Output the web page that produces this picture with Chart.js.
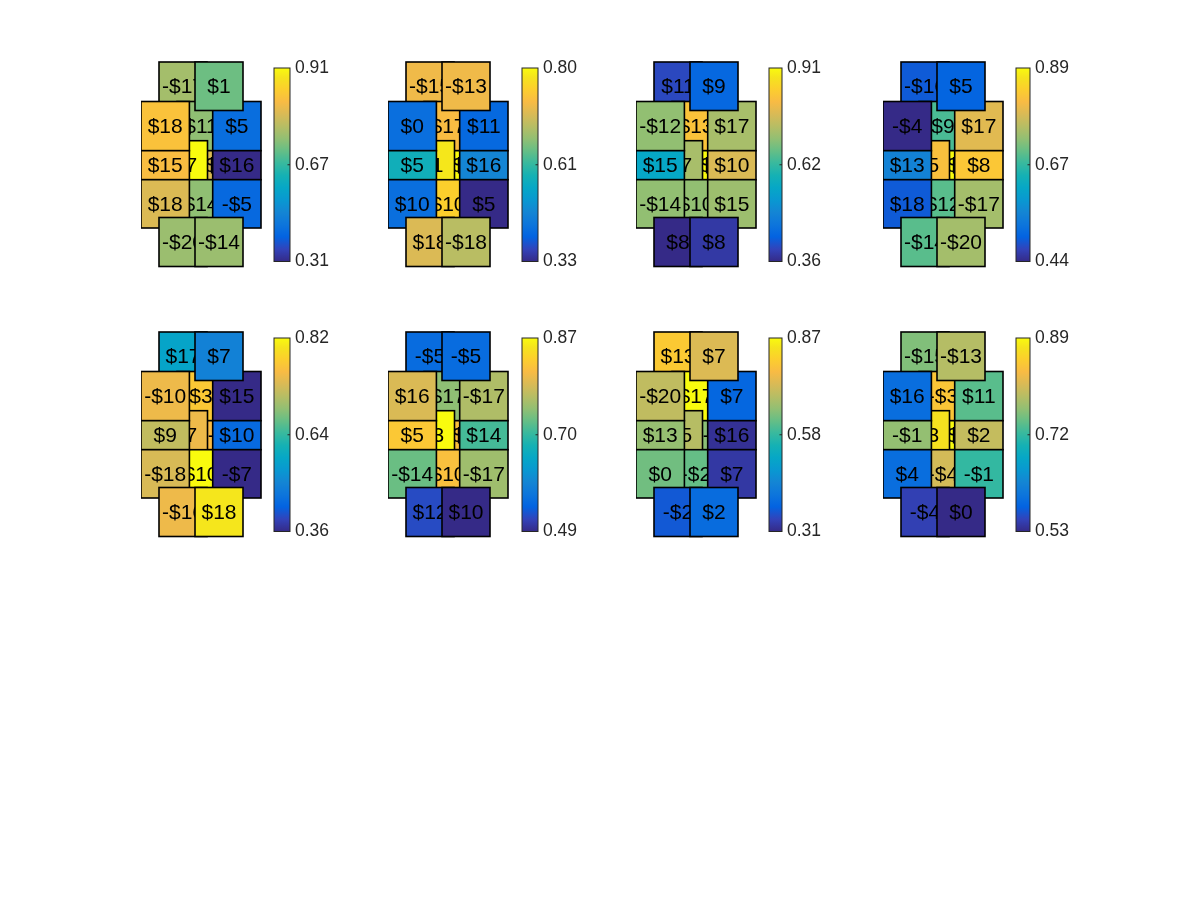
<!DOCTYPE html>
<html>
<head>
<meta charset="utf-8">
<script src="https://cdn.jsdelivr.net/npm/chart.js@4.4.1/dist/chart.umd.min.js"></script>
<style>
  body { margin: 0; background: #fff; width: 1200px; height: 900px; position: relative; overflow: hidden; }
  .panel { position: absolute; }
</style>
</head>
<body>
<script>
// cell order in every panel: TL, MT, B, A, MB, L1, L2, L3, R1, R2, R3, TR, BL, BR
const labelsP1 = ['-$17', '$11', '$19', '$17', '$14', '$18', '$15', '$18', '$5', '$16', '-$5', '$1', '-$20', '-$14'];
const labelsP2 = ['-$15', '$17', '$19', '$11', '$10', '$0', '$5', '$10', '$11', '$16', '$5', '-$13', '$18', '-$18'];
const labelsP3 = ['$11', '$13', '$19', '$17', '$10', '-$12', '$15', '-$14', '$17', '$10', '$15', '$9', '$8', '$8'];
const labelsP4 = ['-$16', '$9', '$19', '$15', '$12', '-$4', '$13', '$18', '$17', '$8', '-$17', '$5', '-$14', '-$20'];
const labelsP5 = ['$17', '$3', '-$5', '$17', '$10', '-$10', '$9', '-$18', '$15', '$10', '-$7', '$7', '-$16', '$18'];
const labelsP6 = ['-$5', '$17', '$19', '$13', '$10', '$16', '$5', '-$14', '-$17', '$14', '-$17', '-$5', '$12', '$10'];
const labelsP7 = ['$13', '$17', '-$9', '$15', '-$2', '-$20', '$13', '$0', '$7', '$16', '$7', '$7', '-$2', '$2'];
const labelsP8 = ['-$15', '-$3', '$19', '$13', '-$4', '$16', '-$1', '$4', '$11', '$2', '-$1', '-$13', '-$4', '$0'];

const valuesP1 = [0.71, 0.69, 0.77, 0.91, 0.69, 0.82, 0.81, 0.77, 0.41, 0.31, 0.40, 0.66, 0.70, 0.70];
const valuesP2 = [0.71, 0.72, 0.80, 0.78, 0.75, 0.41, 0.53, 0.41, 0.40, 0.45, 0.33, 0.71, 0.69, 0.66];
const valuesP3 = [0.40, 0.83, 0.91, 0.73, 0.71, 0.71, 0.57, 0.71, 0.73, 0.78, 0.72, 0.44, 0.36, 0.38];
const valuesP4 = [0.49, 0.68, 0.89, 0.82, 0.69, 0.44, 0.55, 0.49, 0.79, 0.83, 0.74, 0.50, 0.69, 0.74];
const valuesP5 = [0.53, 0.76, 0.74, 0.73, 0.82, 0.73, 0.69, 0.71, 0.36, 0.43, 0.36, 0.47, 0.73, 0.80];
const valuesP6 = [0.55, 0.73, 0.81, 0.87, 0.81, 0.78, 0.82, 0.71, 0.75, 0.69, 0.74, 0.55, 0.52, 0.49];
const valuesP7 = [0.80, 0.87, 0.66, 0.70, 0.63, 0.71, 0.67, 0.64, 0.39, 0.32, 0.33, 0.74, 0.37, 0.40];
const valuesP8 = [0.75, 0.84, 0.89, 0.87, 0.80, 0.59, 0.76, 0.59, 0.73, 0.79, 0.71, 0.78, 0.55, 0.53];

// colorbar tick labels (min, mean, max)
const cbMin = [0.31, 0.33, 0.36, 0.44, 0.36, 0.49, 0.31, 0.53];
const cbMid = [0.67, 0.61, 0.62, 0.67, 0.64, 0.70, 0.58, 0.72];
const cbMax = [0.91, 0.80, 0.91, 0.89, 0.82, 0.87, 0.87, 0.89];

const allLabels = [labelsP1, labelsP2, labelsP3, labelsP4, labelsP5, labelsP6, labelsP7, labelsP8];
const allValues = [valuesP1, valuesP2, valuesP3, valuesP4, valuesP5, valuesP6, valuesP7, valuesP8];

// cell geometry shared by all panels, [x0, x1, y0, y1] in layout units
const cells = [
  [18, 66, 0, 48.5],        // TL
  [36, 84, 39.5, 88.7],     // MT
  [58, 106, 88.7, 117.7],   // B
  [11, 66.5, 78.7, 128.3],  // A
  [36, 84, 117.7, 166],     // MB
  [0, 48.4, 39.5, 88.7],    // L1
  [0, 48.4, 88.7, 117.7],   // L2
  [0, 48.4, 117.7, 166],    // L3
  [71.7, 120, 39.5, 88.7],  // R1
  [71.7, 120, 88.7, 117.7], // R2
  [71.7, 120, 117.7, 166],  // R3
  [54, 102, 0, 48.5],       // TR
  [18, 66, 155.5, 204.5],   // BL
  [54, 102, 155.5, 204.5]   // BR
];

// page layout
const colLeft = [141, 388, 636, 883];
const rowTop = [62, 332];
const cbRight = [290, 538, 782, 1030];
const cbWidth = [16, 16, 13, 14];
const H = 205, PAD = 20, AXW = 50;
const CB_TOP = 6, CB_BOT = 199.5;

// parula
const PARULA = [
  [0.2081, 0.1663, 0.5292], [0.1959, 0.2645, 0.7279], [0.0117, 0.3875, 0.8820], [0.0498, 0.4586, 0.8641],
  [0.0793, 0.5200, 0.8312], [0.0343, 0.5966, 0.8199], [0.0228, 0.6535, 0.7768], [0.0843, 0.6928, 0.7062],
  [0.2178, 0.7250, 0.6193], [0.3953, 0.7459, 0.5244], [0.5709, 0.7485, 0.4494], [0.7184, 0.7411, 0.3905],
  [0.8507, 0.7299, 0.3360], [0.9739, 0.7314, 0.2666], [0.9880, 0.8066, 0.1794], [0.9589, 0.8949, 0.1132],
  [0.9763, 0.9831, 0.0538]
];
const PARULA_POS = PARULA.map((_, i) => i === PARULA.length - 1 ? 1 : i * 4 / 63);

function toCss(c) {
  return 'rgb(' + c.map(v => Math.round(v * 255)).join(',') + ')';
}

function parula(t) {
  t = Math.max(0, Math.min(1, t));
  for (let i = 1; i < PARULA.length; i++) {
    if (t <= PARULA_POS[i]) {
      const f = (t - PARULA_POS[i - 1]) / (PARULA_POS[i] - PARULA_POS[i - 1]);
      const a = PARULA[i - 1], b = PARULA[i];
      return toCss([0, 1, 2].map(k => a[k] + (b[k] - a[k]) * f));
    }
  }
  return toCss(PARULA[PARULA.length - 1]);
}

const patchPlugin = {
  id: 'patches',
  afterDatasetsDraw(chart) {
    const { ctx, chartArea, scales } = chart;
    const opts = chart.options.plugins.patches;
    const { x, y, cb } = scales;
    const lo = opts.lo, hi = opts.hi;
    ctx.save();

    // colorbar
    const top = cb.getPixelForValue(hi), bot = cb.getPixelForValue(lo);
    const r = chartArea.right, l = r - opts.cbw;
    const grad = ctx.createLinearGradient(0, bot, 0, top);
    PARULA.forEach((c, i) => grad.addColorStop(PARULA_POS[i], toCss(c)));
    ctx.fillStyle = grad;
    ctx.fillRect(l, top, r - l, bot - top);
    ctx.strokeStyle = '#262626';
    ctx.lineWidth = 1;
    ctx.strokeRect(l, top, r - l, bot - top);
    const mid = cb.getPixelForValue((lo + hi) / 2);
    ctx.beginPath();
    ctx.moveTo(r - 2.5, mid);
    ctx.lineTo(r, mid);
    ctx.stroke();

    // cells, each with its label, in drawing order
    ctx.font = '21px "Liberation Sans", Arial, sans-serif';
    ctx.textAlign = 'center';
    ctx.textBaseline = 'middle';
    cells.forEach((c, i) => {
      const x0 = x.getPixelForValue(c[0]), x1 = x.getPixelForValue(c[1]);
      const y0 = y.getPixelForValue(c[2]), y1 = y.getPixelForValue(c[3]);
      ctx.fillStyle = parula((opts.values[i] - lo) / (hi - lo));
      ctx.fillRect(x0, y0, x1 - x0, y1 - y0);
      ctx.strokeStyle = '#000';
      ctx.lineWidth = 1.6;
      ctx.strokeRect(x0, y0, x1 - x0, y1 - y0);
      ctx.fillStyle = '#000';
      ctx.fillText(opts.labels[i], (x0 + x1) / 2, (y0 + y1) / 2 + 1);
    });
    ctx.restore();
  }
};

function makePanel(p) {
  const col = p % 4, row = Math.floor(p / 4);
  const xMax = cbRight[col] - colLeft[col];
  const lo = cbMin[p], hi = cbMax[p];
  const span = hi - lo;
  const cbLo = lo - (H - CB_BOT) / (CB_BOT - CB_TOP) * span;
  const cbHi = hi + CB_TOP / (CB_BOT - CB_TOP) * span;
  const tickText = [cbMin[p].toFixed(2), cbMid[p].toFixed(2), cbMax[p].toFixed(2)];

  const box = document.createElement('div');
  box.className = 'panel';
  box.style.left = colLeft[col] + 'px';
  box.style.top = (rowTop[row] - PAD) + 'px';
  box.style.width = (xMax + AXW) + 'px';
  box.style.height = (H + 2 * PAD) + 'px';
  const canvas = document.createElement('canvas');
  box.appendChild(canvas);
  document.body.appendChild(box);

  new Chart(canvas, {
    type: 'scatter',
    data: { datasets: [] },
    options: {
      responsive: true,
      maintainAspectRatio: false,
      animation: false,
      layout: { padding: { top: PAD, bottom: PAD, left: 0, right: 0 } },
      plugins: {
        legend: { display: false },
        tooltip: { enabled: false },
        patches: { labels: allLabels[p], values: allValues[p], lo: lo, hi: hi, cbw: cbWidth[col] }
      },
      scales: {
        x: { type: 'linear', display: false, min: 0, max: xMax },
        y: { type: 'linear', display: false, min: 0, max: H, reverse: true },
        cb: {
          type: 'linear',
          position: 'right',
          min: cbLo,
          max: cbHi,
          border: { display: false },
          grid: { display: false, drawTicks: false },
          afterBuildTicks: axis => { axis.ticks = [lo, (lo + hi) / 2, hi].map(v => ({ value: v })); },
          afterFit: axis => { axis.width = AXW; },
          ticks: {
            autoSkip: false,
            padding: 5,
            color: '#262626',
            font: { family: 'Liberation Sans', size: 17.5 },
            callback: (v, i) => tickText[i]
          }
        }
      }
    },
    plugins: [patchPlugin]
  });
}

for (let p = 0; p < 8; p++) makePanel(p);
</script>
</body>
</html>
